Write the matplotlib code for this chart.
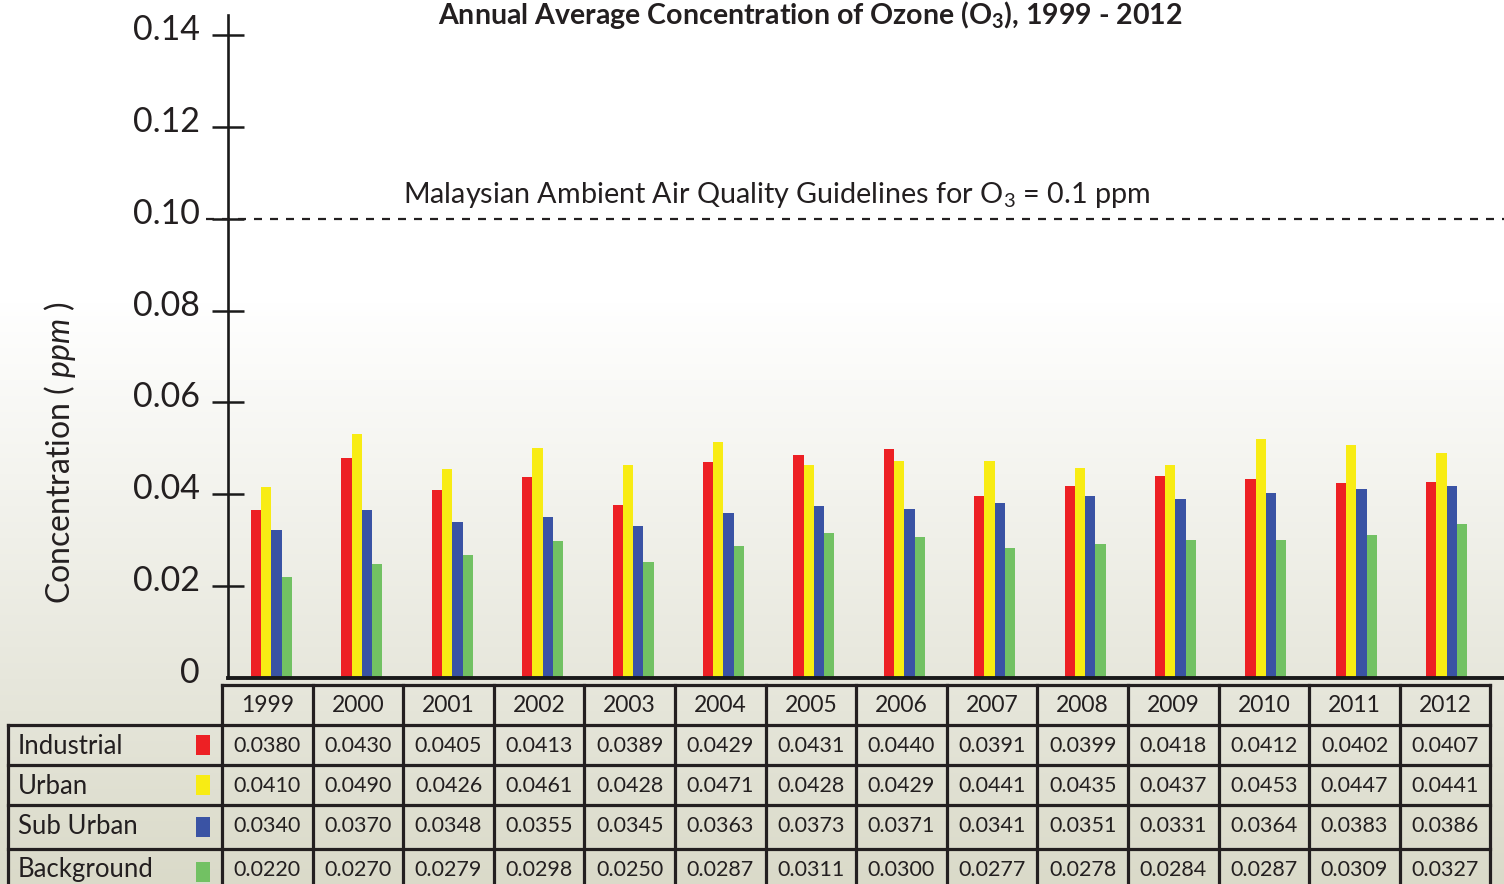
import numpy as np
import matplotlib
matplotlib.use("Agg")
import matplotlib.pyplot as plt
import matplotlib.transforms as mtransforms
from matplotlib.colors import LinearSegmentedColormap

plt.rcParams['font.family'] = ['Lato', 'DejaVu Sans']
plt.rcParams['mathtext.fontset'] = 'custom'
plt.rcParams['mathtext.rm'] = 'Lato'
plt.rcParams['mathtext.it'] = 'Lato:italic'
plt.rcParams['mathtext.bf'] = 'Lato:bold'

years = ['1999', '2000', '2001', '2002', '2003', '2004', '2005',
         '2006', '2007', '2008', '2009', '2010', '2011', '2012']
series = ['Industrial', 'Urban', 'Sub Urban', 'Background']
colors = ['#ed2024', '#f8ec14', '#3a53a4', '#72c163']

# bar heights as drawn in the chart (ppm)
industrial = [0.0365, 0.0478, 0.0409, 0.0437, 0.0376, 0.0470, 0.0485,
              0.0498, 0.0396, 0.0417, 0.0439, 0.0433, 0.0424, 0.0426]
urban = [0.0415, 0.0531, 0.0454, 0.0500, 0.0463, 0.0513, 0.0463,
         0.0472, 0.0472, 0.0457, 0.0463, 0.0520, 0.0507, 0.0489]
sub_urban = [0.0322, 0.0365, 0.0339, 0.0350, 0.0330, 0.0359, 0.0374,
             0.0367, 0.0380, 0.0396, 0.0389, 0.0402, 0.0411, 0.0417]
background = [0.0219, 0.0248, 0.0267, 0.0298, 0.0252, 0.0287, 0.0315,
              0.0306, 0.0282, 0.0291, 0.0300, 0.0300, 0.0311, 0.0335]

# values printed in the table
tab_industrial = ['0.0380', '0.0430', '0.0405', '0.0413', '0.0389', '0.0429', '0.0431',
                  '0.0440', '0.0391', '0.0399', '0.0418', '0.0412', '0.0402', '0.0407']
tab_urban = ['0.0410', '0.0490', '0.0426', '0.0461', '0.0428', '0.0471', '0.0428',
             '0.0429', '0.0441', '0.0435', '0.0437', '0.0453', '0.0447', '0.0441']
tab_sub_urban = ['0.0340', '0.0370', '0.0348', '0.0355', '0.0345', '0.0363', '0.0373',
                 '0.0371', '0.0341', '0.0351', '0.0331', '0.0364', '0.0383', '0.0386']
tab_background = ['0.0220', '0.0270', '0.0279', '0.0298', '0.0250', '0.0287', '0.0311',
                  '0.0300', '0.0277', '0.0278', '0.0284', '0.0287', '0.0309', '0.0327']

yticks = [0, 0.02, 0.04, 0.06, 0.08, 0.10, 0.12, 0.14]
ytick_labels = ['0', '0.02', '0.04', '0.06', '0.08', '0.10', '0.12', '0.14']

W, H = 1504, 884
tc = '#231f20'
fig = plt.figure(figsize=(W / 100, H / 100), dpi=100)

# background gradient (white top, greyish beige bottom)
bg = fig.add_axes([0, 0, 1, 1], zorder=-10)
grad = np.clip((np.arange(H) - 300) / (H - 300), 0, 1).reshape(-1, 1)
cmap = LinearSegmentedColormap.from_list('bg', ['#ffffff', '#dadac9'])
bg.imshow(grad, aspect='auto', cmap=cmap, extent=[0, W, H, 0], vmin=0, vmax=1)
bg.set_xlim(0, W)
bg.set_ylim(H, 0)
bg.axis('off')

# main chart
ax = fig.add_axes([228 / W, (H - 678) / H, (W - 228) / W, (678 - 15) / H])
ax.patch.set_visible(False)
x = np.arange(len(years))
bw = 0.1134
for k, vals in enumerate([industrial, urban, sub_urban, background]):
    ax.bar(x + (k - 1.5) * bw, vals, width=bw, color=colors[k], linewidth=0, zorder=2)

ax.set_xlim(-0.481, 13.634)
ax.set_ylim(0, 0.14436)
ax.spines['top'].set_visible(False)
ax.spines['right'].set_visible(False)
ax.spines['left'].set_linewidth(1.9)
ax.spines['bottom'].set_linewidth(2.8)
ax.spines['left'].set_color('#1a1a1a')
ax.spines['bottom'].set_color('#1a1a1a')
ax.set_xticks([])
ax.set_yticks(yticks)
ax.set_yticklabels(ytick_labels)
ax.tick_params(axis='y', direction='inout', length=23, width=1.8, pad=9,
               labelsize=24.5, labelcolor=tc, color='#1a1a1a')
ax.yaxis.get_major_ticks()[0].tick1line.set_visible(False)
offset = mtransforms.ScaledTranslation(0, 0.08, fig.dpi_scale_trans)
for lab in ax.get_yticklabels():
    lab.set_transform(lab.get_transform() + offset)

# guideline
ax.axhline(0.10, xmin=-0.017, xmax=1, color=tc, lw=1.6,
           linestyle=(0, (3.6, 3.6)), clip_on=False, zorder=3)
ax.text(1.45, 0.1018, 'Malaysian Ambient Air Quality Guidelines for O$_3$ = 0.1 ppm',
        fontsize=20.7, color=tc, ha='left', va='bottom')

fig.text(810 / W, 1 - 15 / H, 'Annual Average Concentration of Ozone (O$_\\mathbf{3}$), 1999 - 2012',
         fontsize=20.5, fontweight='bold', color=tc, ha='center', va='center')
fig.text(60 / W, 1 - 453 / H, 'Concentration ( $\\mathit{ppm}$ )', rotation=90,
         fontsize=23, color=tc, ha='center', va='center')

# data table drawn below the chart (pixel coordinates)
tb = fig.add_axes([0, 0, 1, 1], zorder=5)
tb.set_xlim(0, W)
tb.set_ylim(H, 0)
tb.axis('off')
col_x0, col_w = 222, 90.6
lab_x0 = 8
row_edges = [685, 725, 765, 805, 849, 895]
lw = 2.3
ncol = len(years)
col_x1 = col_x0 + col_w * ncol
tb.plot([col_x0, col_x1], [row_edges[0]] * 2, color=tc, lw=lw, solid_capstyle='projecting')
for yy in row_edges[1:]:
    tb.plot([lab_x0, col_x1], [yy, yy], color=tc, lw=lw, solid_capstyle='projecting')
tb.plot([lab_x0, lab_x0], [row_edges[1], H + 10], color=tc, lw=lw)
for j in range(ncol + 1):
    tb.plot([col_x0 + j * col_w] * 2, [row_edges[0], H + 10], color=tc, lw=lw)

for j, yr in enumerate(years):
    tb.text(col_x0 + (j + 0.5) * col_w, (row_edges[0] + row_edges[1]) / 2, yr,
            fontsize=16.5, color=tc, ha='center', va='center')

table_rows = [tab_industrial, tab_urban, tab_sub_urban, tab_background]
for i, name in enumerate(series):
    top, bot = row_edges[i + 1], row_edges[i + 2]
    ty = top + 21
    tb.text(18, ty, name, fontsize=18.5, color=tc, ha='left', va='center')
    cy = min((top + bot) / 2, H - 10)
    tb.add_patch(plt.Rectangle((196, cy - 10), 14, 20, color=colors[i], lw=0))
    for j, v in enumerate(table_rows[i]):
        tb.text(col_x0 + (j + 0.5) * col_w, ty, v, fontsize=15.5,
                color=tc, ha='center', va='center')

fig.savefig('out.png', dpi=100)
